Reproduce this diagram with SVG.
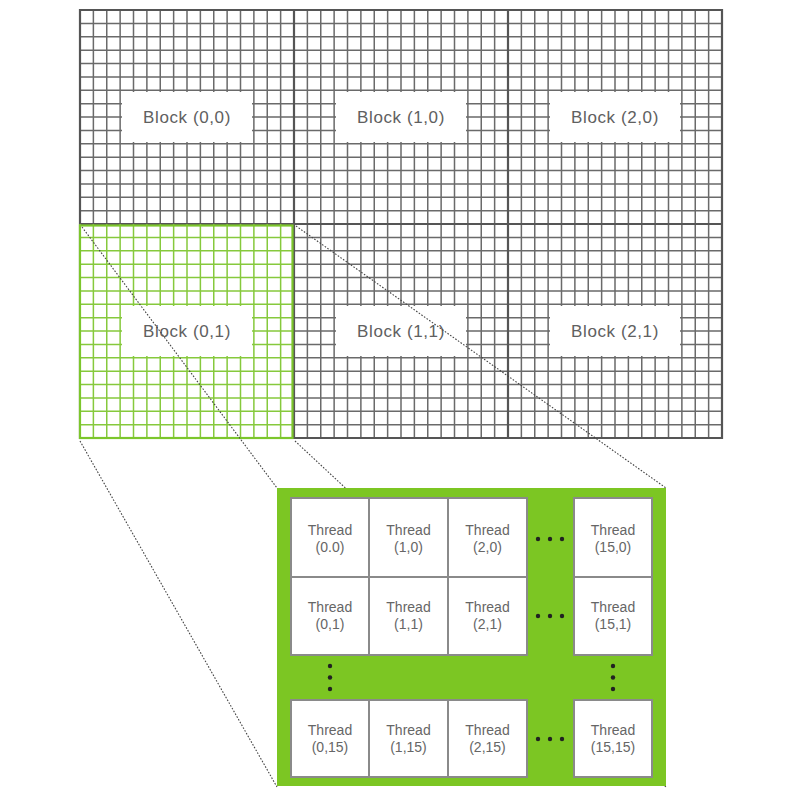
<svg xmlns="http://www.w3.org/2000/svg" width="800" height="800" viewBox="0 0 800 800">
<style>
.bg{fill:#ffffff}
.grid{fill:none;stroke:#6a6a6a;stroke-width:1.5}
.gridg{fill:none;stroke:#86c93c;stroke-width:1.5}
.bord{fill:none;stroke:#555555;stroke-width:2.2}
.bordg{fill:none;stroke:#7cc62c;stroke-width:2.2}
.lbox{fill:#ffffff}
.blabel{font-family:"Liberation Sans",Arial,sans-serif;font-size:17px;fill:#606060;text-anchor:middle;letter-spacing:0.6px}
.tcell{fill:#ffffff;stroke:#8a8a8a;stroke-width:2}
.tlabel{font-family:"Liberation Sans",Arial,sans-serif;font-size:14px;fill:#666666;text-anchor:middle}
.conn{fill:none;stroke:#444444;stroke-width:1.1;stroke-dasharray:1.6 1.6}
.dot{fill:#222222}
.tbox{fill:#7cc623}
</style>
<rect class="bg" x="0" y="0" width="800" height="800"/>
<g id="grid">
<path class="grid" d="M80 10V438M93.38 10V438M106.75 10V438M120.13 10V438M133.5 10V438M146.88 10V438M160.25 10V438M173.63 10V438M187 10V438M200.38 10V438M213.75 10V438M227.13 10V438M240.5 10V438M253.88 10V438M267.25 10V438M280.63 10V438M294 10V438M307.38 10V438M320.75 10V438M334.13 10V438M347.5 10V438M360.88 10V438M374.25 10V438M387.63 10V438M401 10V438M414.38 10V438M427.75 10V438M441.13 10V438M454.5 10V438M467.88 10V438M481.25 10V438M494.63 10V438M508 10V438M521.38 10V438M534.75 10V438M548.13 10V438M561.5 10V438M574.88 10V438M588.25 10V438M601.63 10V438M615 10V438M628.38 10V438M641.75 10V438M655.13 10V438M668.5 10V438M681.88 10V438M695.25 10V438M708.63 10V438M722 10V438
M80 10H722M80 23.38H722M80 36.75H722M80 50.13H722M80 63.5H722M80 76.88H722M80 90.25H722M80 103.63H722M80 117H722M80 130.38H722M80 143.75H722M80 157.13H722M80 170.5H722M80 183.88H722M80 197.25H722M80 210.63H722M80 224H722M80 237.38H722M80 250.75H722M80 264.13H722M80 277.5H722M80 290.88H722M80 304.25H722M80 317.63H722M80 331H722M80 344.38H722M80 357.75H722M80 371.13H722M80 384.5H722M80 397.88H722M80 411.25H722M80 424.63H722M80 438H722"/>
<path class="bord" d="M80 10H722V438H80ZM294 10V438M508 10V438M80 224H722"/>
</g>
<g id="block-0-1-grid">
<rect class="bg" x="79" y="225" width="214" height="214"/>
<path class="gridg" d="M80 224V438M93.38 224V438M106.75 224V438M120.13 224V438M133.5 224V438M146.88 224V438M160.25 224V438M173.63 224V438M187 224V438M200.38 224V438M213.75 224V438M227.13 224V438M240.5 224V438M253.88 224V438M267.25 224V438M280.63 224V438
M80 237.38H293M80 250.75H293M80 264.13H293M80 277.5H293M80 290.88H293M80 304.25H293M80 317.63H293M80 331H293M80 344.38H293M80 357.75H293M80 371.13H293M80 384.5H293M80 397.88H293M80 411.25H293M80 424.63H293"/>
<rect class="bordg" x="80" y="225.5" width="212.5" height="212.5"/>
</g>
<g id="block-0-0"><rect class="lbox" x="122" y="92" width="130" height="50"/><text class="blabel" x="187" y="123">Block (0,0)</text></g>
<g id="block-1-0"><rect class="lbox" x="336" y="92" width="130" height="50"/><text class="blabel" x="401" y="123">Block (1,0)</text></g>
<g id="block-2-0"><rect class="lbox" x="550" y="92" width="130" height="50"/><text class="blabel" x="615" y="123">Block (2,0)</text></g>
<g id="block-0-1"><rect class="lbox" x="122" y="306" width="130" height="50"/><text class="blabel" x="187" y="337">Block (0,1)</text></g>
<g id="block-1-1"><rect class="lbox" x="336" y="306" width="130" height="50"/><text class="blabel" x="401" y="337">Block (1,1)</text></g>
<g id="block-2-1"><rect class="lbox" x="550" y="306" width="130" height="50"/><text class="blabel" x="615" y="337">Block (2,1)</text></g>
<g id="connectors">
<path class="conn" d="M82 227L277 488"/>
<path class="conn" d="M296 226L666 488"/>
<path class="conn" d="M80 441L277 787"/>
<path class="conn" d="M295 441L666 787"/>
</g>
<g id="thread-block">
<rect class="tbox" x="277" y="488" width="389" height="298"/>
<g class="dot">
<circle cx="538" cy="539" r="2.2"/><circle cx="550" cy="539" r="2.2"/><circle cx="562" cy="539" r="2.2"/>
<circle cx="538" cy="616" r="2.2"/><circle cx="550" cy="616" r="2.2"/><circle cx="562" cy="616" r="2.2"/>
<circle cx="538" cy="739" r="2.2"/><circle cx="550" cy="739" r="2.2"/><circle cx="562" cy="739" r="2.2"/>
<circle cx="330" cy="666" r="2.2"/><circle cx="330" cy="677.5" r="2.2"/><circle cx="330" cy="689" r="2.2"/>
<circle cx="613" cy="666" r="2.2"/><circle cx="613" cy="677.5" r="2.2"/><circle cx="613" cy="689" r="2.2"/>
</g>
</g>
<g id="thread-0-0"><rect class="tcell" x="291" y="498" width="78" height="79"/><text class="tlabel" x="330" y="535">Thread</text><text class="tlabel" x="330" y="552">(0.0)</text></g>
<g id="thread-1-0"><rect class="tcell" x="369" y="498" width="79" height="79"/><text class="tlabel" x="408.5" y="535">Thread</text><text class="tlabel" x="408.5" y="552">(1,0)</text></g>
<g id="thread-2-0"><rect class="tcell" x="448" y="498" width="79" height="79"/><text class="tlabel" x="487.5" y="535">Thread</text><text class="tlabel" x="487.5" y="552">(2,0)</text></g>
<g id="thread-15-0"><rect class="tcell" x="574" y="498" width="78" height="79"/><text class="tlabel" x="613" y="535">Thread</text><text class="tlabel" x="613" y="552">(15,0)</text></g>
<g id="thread-0-1"><rect class="tcell" x="291" y="577" width="78" height="78"/><text class="tlabel" x="330" y="612">Thread</text><text class="tlabel" x="330" y="629">(0,1)</text></g>
<g id="thread-1-1"><rect class="tcell" x="369" y="577" width="79" height="78"/><text class="tlabel" x="408.5" y="612">Thread</text><text class="tlabel" x="408.5" y="629">(1,1)</text></g>
<g id="thread-2-1"><rect class="tcell" x="448" y="577" width="79" height="78"/><text class="tlabel" x="487.5" y="612">Thread</text><text class="tlabel" x="487.5" y="629">(2,1)</text></g>
<g id="thread-15-1"><rect class="tcell" x="574" y="577" width="78" height="78"/><text class="tlabel" x="613" y="612">Thread</text><text class="tlabel" x="613" y="629">(15,1)</text></g>
<g id="thread-0-15"><rect class="tcell" x="291" y="700" width="78" height="77"/><text class="tlabel" x="330" y="735">Thread</text><text class="tlabel" x="330" y="752">(0,15)</text></g>
<g id="thread-1-15"><rect class="tcell" x="369" y="700" width="79" height="77"/><text class="tlabel" x="408.5" y="735">Thread</text><text class="tlabel" x="408.5" y="752">(1,15)</text></g>
<g id="thread-2-15"><rect class="tcell" x="448" y="700" width="79" height="77"/><text class="tlabel" x="487.5" y="735">Thread</text><text class="tlabel" x="487.5" y="752">(2,15)</text></g>
<g id="thread-15-15"><rect class="tcell" x="574" y="700" width="78" height="77"/><text class="tlabel" x="613" y="735">Thread</text><text class="tlabel" x="613" y="752">(15,15)</text></g>
</svg>
